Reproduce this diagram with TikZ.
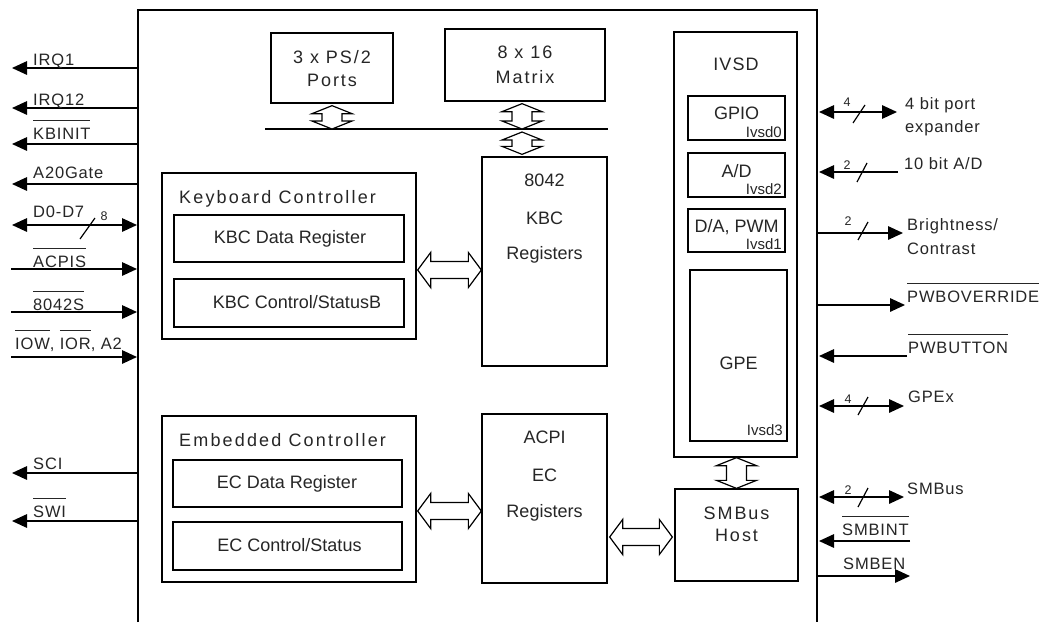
\documentclass[tikz,border=0pt]{standalone}
\usepackage{fontspec}
\setmainfont{Liberation Sans}
\newfontfamily\lsA[LetterSpace=5]{Liberation Sans}
\newfontfamily\lsB[LetterSpace=11]{Liberation Sans}
\newfontfamily\lsC[LetterSpace=12]{Liberation Sans}
\newfontfamily\lsD[LetterSpace=6]{Liberation Sans}
\usetikzlibrary{arrows.meta,calc}
\newcommand\ovl[1]{\leavevmode\vbox{\hrule height 0.9pt\kern 6.5pt\hbox{#1}}}
\newcommand\blkH[2]{\draw[blk] let \p1=(#1), \p2=(#2) in
  (\x1,\y1) -- (\x1+13pt,\y1+17.5pt) -- (\x1+13pt,\y1+8.5pt) -- (\x2-13pt,\y1+8.5pt) -- (\x2-13pt,\y1+17.5pt)
  -- (\x2,\y1) -- (\x2-13pt,\y1-17.5pt) -- (\x2-13pt,\y1-8.5pt) -- (\x1+13pt,\y1-8.5pt) -- (\x1+13pt,\y1-17.5pt) -- cycle;}
\newcommand\blkV[2]{\draw[blk] let \p1=(#1), \p2=(#2) in
  (\x1,\y1) -- (\x1+20pt,\y1-8pt) -- (\x1+10pt,\y1-8pt) -- (\x1+10pt,\y2+8pt) -- (\x1+20pt,\y2+8pt)
  -- (\x1,\y2) -- (\x1-20pt,\y2+8pt) -- (\x1-10pt,\y2+8pt) -- (\x1-10pt,\y1-8pt) -- (\x1-20pt,\y1-8pt) -- cycle;}
\begin{document}
\begin{tikzpicture}[x=1pt,y=-1pt,
  >={Triangle[length=15pt,width=13.5pt]},
  every node/.style={inner sep=0pt, text=black!85},
  box/.style={draw, line width=1.3pt},
  sig/.style={line width=1.5pt},
  slash/.style={line width=1.2pt},
  blk/.style={draw, line width=1.2pt, fill=white, line join=miter},
  lbl/.style={font=\lsA\fontsize{16.5}{19}\selectfont, anchor=base west},
  num/.style={font=\fontsize{12.5}{14}\selectfont},
  ttl/.style={font=\lsC\fontsize{18}{21}\selectfont, anchor=base west},
  reg/.style={font=\fontsize{18}{21}\selectfont, anchor=base},
  wide/.style={font=\lsB\fontsize{18}{21}\selectfont, anchor=base},
  small/.style={font=\fontsize{15}{17}\selectfont, anchor=base east}]
\useasboundingbox (0,0) rectangle (1040,622);
\fill[white] (0,0) rectangle (1040,622);

% main chip outline
\coordinate (mTL) at (138,10);
\coordinate (mTR) at (817,10);
\draw[line width=1.8pt] (138,622) -- (mTL) -- (mTR) -- (817,622);

% top blocks
\node[box, minimum width=122pt, minimum height=70pt] (ps2) at (332,68) {};
\node[wide] (ps2a) at (332,63) {3 x PS/2};
\node[wide] (ps2b) at (332,86) {Ports};
\node[box, minimum width=160pt, minimum height=72pt] (mtx) at (525,65) {};
\node[wide] (mtxa) at (525,58) {8 x 16};
\node[wide] (mtxb) at (525,83) {Matrix};
\coordinate (busL) at (265,129);
\coordinate (busR) at (608,129);
\draw[line width=1.3pt] (busL) -- (busR);

% 8042 KBC registers
\node[box, minimum width=125pt, minimum height=209pt] (kreg) at (544.5,261.5) {};
\node[reg] (kreg1) at (544.5,186) {8042};
\node[reg] (kreg2) at (544.5,224) {KBC};
\node[reg] (kreg3) at (544.5,259) {Registers};

% keyboard controller
\node[box, minimum width=254pt, minimum height=166pt] (kbc) at (289,256) {};
\node[ttl] (kbct) at (179,203) {Keyboard Controller};
\node[box, minimum width=230pt, minimum height=47pt] (kbcd) at (289,238.5) {};
\node[reg] (kbcdt) at (290,243) {KBC Data Register};
\node[box, minimum width=230pt, minimum height=48pt] (kbcc) at (289,303) {};
\node[reg] (kbcct) at (297,308) {KBC Control/StatusB};

% embedded controller
\node[box, minimum width=254pt, minimum height=166pt] (ec) at (289,499) {};
\node[ttl] (ect) at (179,446) {Embedded Controller};
\node[box, minimum width=229pt, minimum height=47pt] (ecd) at (287.5,483.5) {};
\node[reg] (ecdt) at (287,488) {EC Data Register};
\node[box, minimum width=229pt, minimum height=48pt] (ecc) at (287.5,546) {};
\node[reg] (ecct) at (289.5,551) {EC Control/Status};

% ACPI EC registers
\node[box, minimum width=125pt, minimum height=169pt] (acpi) at (544.5,498.5) {};
\node[reg] (acpi1) at (544.5,443) {ACPI};
\node[reg] (acpi2) at (544.5,481) {EC};
\node[reg] (acpi3) at (544.5,517) {Registers};

% SMBus host
\node[box, minimum width=123pt, minimum height=92pt] (smb) at (736.5,535) {};
\node[wide] (smb1) at (736.5,519) {SMBus};
\node[wide] (smb2) at (736.5,541) {Host};

% IVSD
\node[box, minimum width=123pt, minimum height=425pt] (ivsd) at (735.5,244.5) {};
\node[font=\lsD\fontsize{18}{21}\selectfont, anchor=base] (ivsdt) at (736,70) {IVSD};
\node[box, line width=1.1pt, minimum width=97pt, minimum height=44pt] (gpio) at (736.5,118) {};
\node[reg] (gpiot) at (736.5,119) {GPIO};
\node[small] (iv0) at (782,137) {Ivsd0};
\node[box, line width=1.1pt, minimum width=97pt, minimum height=44pt] (ad) at (736.5,175) {};
\node[reg] (adt) at (736.5,177) {A/D};
\node[small] (iv2) at (782,194) {Ivsd2};
\node[box, line width=1.1pt, minimum width=97pt, minimum height=43pt] (da) at (736.5,230.5) {};
\node[reg] (dat) at (736.5,232) {D/A, PWM};
\node[small] (iv1) at (782,249) {Ivsd1};
\node[box, line width=1.1pt, minimum width=97pt, minimum height=171pt] (gpe) at (738.5,355.5) {};
\node[reg] (gpet) at (738.5,369) {GPE};
\node[small] (iv3) at (783,435) {Ivsd3};

% hollow bus arrows
\coordinate (a1t) at ($(ps2.south)+(0,2)$);
\coordinate (a1b) at (ps2.south |- busL);
\blkV{a1t}{a1b}
\coordinate (a2t) at ($(mtx.south)+(-3,2)$);
\coordinate (a2b) at (a2t |- busL);
\blkV{a2t}{a2b}
\coordinate (a3t) at ($(busL -| a2t)+(0,3)$);
\coordinate (a3b) at ($(kreg.north -| a2t)+(0,-2)$);
\blkV{a3t}{a3b}
\coordinate (a4t) at ($(ivsd.south)+(1,0)$);
\coordinate (a4b) at (smb.north);
\blkV{a4t}{a4b}
\coordinate (h1a) at ($(kbc.east)+(1,14)$);
\coordinate (h1b) at (kreg.west |- h1a);
\blkH{h1a}{h1b}
\coordinate (h2a) at ($(ec.east)+(1,12)$);
\coordinate (h2b) at (acpi.west |- h2a);
\blkH{h2a}{h2b}
\coordinate (h3a) at ($(acpi.east)+(2,38.5)$);
\coordinate (h3b) at ($(smb.west |- h3a)+(-2,0)$);
\blkH{h3a}{h3b}

% left signals
\coordinate (l1i) at (138,68);  \coordinate (l1o) at (12,68);
\draw[sig,->] (l1i) -- (l1o);
\node[lbl] (tIRQ1) at (33,65) {IRQ1};
\coordinate (l2i) at (138,108); \coordinate (l2o) at (12,108);
\draw[sig,->] (l2i) -- (l2o);
\node[lbl] (tIRQ12) at (33,105) {IRQ12};
\coordinate (l3i) at (138,144); \coordinate (l3o) at (12,144);
\draw[sig,->] (l3i) -- (l3o);
\node[lbl] (tKB) at (33,139) {\ovl{KBINIT}};
\coordinate (l4i) at (138,184); \coordinate (l4o) at (12,184);
\draw[sig,->] (l4i) -- (l4o);
\node[lbl] (tA20) at (33,178) {A20Gate};
\coordinate (l5i) at (137,225); \coordinate (l5o) at (12,225);
\draw[sig,<->] (l5o) -- (l5i);
\draw[slash] (80,239) -- (95,218);
\node[num] (n8) at (104,216) {8};
\node[lbl] (tD0) at (33,217) {D0-D7};
\coordinate (l6i) at (137,269); \coordinate (l6o) at (11,269);
\draw[sig,->] (l6o) -- (l6i);
\node[lbl] (tACPIS) at (33,267) {\ovl{ACPIS}};
\coordinate (l7i) at (137,312); \coordinate (l7o) at (11,312);
\draw[sig,->] (l7o) -- (l7i);
\node[lbl] (t8042S) at (33,310) {\ovl{8042S}};
\coordinate (l8i) at (137,357); \coordinate (l8o) at (11,357);
\draw[sig,->] (l8o) -- (l8i);
\node[lbl] (tIOW) at (15,349) {\ovl{IOW}, \ovl{IOR}, A2};
\coordinate (l9i) at (138,473); \coordinate (l9o) at (12,473);
\draw[sig,->] (l9i) -- (l9o);
\node[lbl] (tSCI) at (33,469) {SCI};
\coordinate (l10i) at (138,521); \coordinate (l10o) at (12,521);
\draw[sig,->] (l10i) -- (l10o);
\node[lbl] (tSWI) at (33,517) {\ovl{SWI}};

% right signals
\coordinate (r1i) at (819,112); \coordinate (r1o) at (897,112);
\draw[sig,<->] (r1i) -- (r1o);
\draw[slash] (853,123) -- (865,105);
\node[num] (n4a) at (847,102) {4};
\node[lbl] (t4bit) at (905,109) {4 bit port};
\node[lbl] (t4bitb) at (905,132) {expander};
\coordinate (r2i) at (819,172); \coordinate (r2o) at (898,172);
\draw[sig,->] (r2o) -- (r2i);
\draw[slash] (857,182) -- (867,163);
\node[num] (n2a) at (847,165) {2};
\node[lbl] (tAD) at (904,169) {10 bit A/D};
\coordinate (r3i) at (817,233); \coordinate (r3o) at (903,233);
\draw[sig,->] (r3i) -- (r3o);
\draw[slash] (858,240) -- (868,222);
\node[num] (n2b) at (848,221) {2};
\node[lbl] (tBr) at (907,230) {Brightness/};
\node[lbl] (tCo) at (907,254) {Contrast};
\coordinate (r4i) at (817,305); \coordinate (r4o) at (905,305);
\draw[sig,->] (r4i) -- (r4o);
\node[lbl] (tPWO) at (907,302) {\ovl{PWBOVERRIDE}};
\coordinate (r5i) at (819,356); \coordinate (r5o) at (907,356);
\draw[sig,->] (r5o) -- (r5i);
\node[lbl] (tPWB) at (908,353) {\ovl{PWBUTTON}};
\coordinate (r6i) at (819,406); \coordinate (r6o) at (904,406);
\draw[sig,<->] (r6i) -- (r6o);
\draw[slash] (858,415) -- (868,397);
\node[num] (n4b) at (848,399) {4};
\node[lbl] (tGPEx) at (908,402) {GPEx};
\coordinate (r7i) at (819,497); \coordinate (r7o) at (904,497);
\draw[sig,<->] (r7i) -- (r7o);
\draw[slash] (858,507) -- (868,488);
\node[num] (n2c) at (848,490) {2};
\node[lbl] (tSMB) at (907,494) {SMBus};
\coordinate (r8i) at (819,541); \coordinate (r8o) at (910,541);
\draw[sig,->] (r8o) -- (r8i);
\node[lbl] (tSMBI) at (842,535) {\ovl{SMBINT}};
\coordinate (r9i) at (817,576); \coordinate (r9o) at (910,576);
\draw[sig,->] (r9i) -- (r9o);
\node[lbl] (tSMBE) at (843,569) {SMBEN};
\end{tikzpicture}
\end{document}
